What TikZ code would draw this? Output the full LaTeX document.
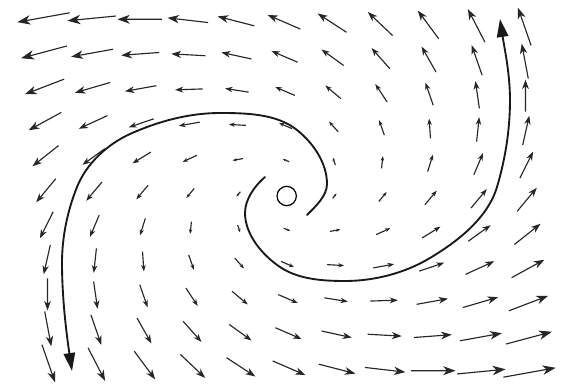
\documentclass[tikz,border=0pt]{standalone}
\usetikzlibrary{arrows.meta}
\begin{document}
\begin{tikzpicture}[x=0.75pt,y=-0.75pt,
  vec/.style={line width=0.85pt,draw=black!85},
  traj/.style={line width=1.4pt,draw=black!90,line cap=round},
  trajhead/.style={-{Triangle[length=13.5pt,width=8.5pt]}}]
\fill[white] (0,0) rectangle (569,388);
\useasboundingbox (0,0) rectangle (569,388);
% vector field  x' = 0.6x - y,  y' = x + 0.6y
\foreach \i in {-5,...,5}{
  \foreach \j in {-5,...,5}{
    \pgfmathsetmacro\cx{286.5+48.1*\i-0.5*\j}
    \pgfmathsetmacro\cy{195-34.6*\j+0.9*\i}
    \pgfmathsetmacro\dx{0.136*48.1*(0.6*\i-\j)}
    \pgfmathsetmacro\dy{-0.136*34.6*(\i+0.6*\j)}
    \pgfmathsetmacro\L{sqrt(\dx*\dx+\dy*\dy)}
    \pgfmathsetmacro\hl{0.75*min(0.24*\L+1.6,13)}
    \pgfmathsetmacro\hw{0.72*\hl}
    \ifdim\L pt>0.5pt
      \draw[vec,-{Stealth[length=\hl pt,width=\hw pt,inset=0.3*\hl pt]}]
        ({\cx-\dx/2},{\cy-\dy/2}) -- ++(\dx,\dy);
    \fi
  }
}
% equilibrium
\node[draw,circle,line width=0.9pt,minimum size=14.5pt,inner sep=0pt] (origin) at (286.7,196) {};
% trajectory 1
\draw[traj,trajhead] (307,215)
  .. controls (315.5,206.5) and (327,196) .. (327,184)
  .. controls (327,163) and (313.4,143.1) .. (297,130)
  .. controls (276.7,113.7) and (246,113) .. (220,113)
  .. controls (189,113) and (158.3,121.3) .. (130,134)
  .. controls (107.2,144.3) and (86.3,163.8) .. (77,187)
  .. controls (67.4,211.1) and (62,237) .. (62,263)
  .. controls (62,299) and (66.7,335.4) .. (72,371);
% trajectory 2
\draw[traj,trajhead] (265,177)
  .. controls (254.6,185.9) and (245,199.3) .. (245,213)
  .. controls (245,234.5) and (262.2,255) .. (280,267)
  .. controls (298.4,279.4) and (322.8,281) .. (345,281)
  .. controls (374.3,281) and (404.9,273.1) .. (430,258)
  .. controls (457.9,241.3) and (487.7,218.1) .. (497,187)
  .. controls (505.4,158.9) and (510,129.3) .. (510,100)
  .. controls (510,72.8) and (504,45.9) .. (500,19);
\end{tikzpicture}
\end{document}
